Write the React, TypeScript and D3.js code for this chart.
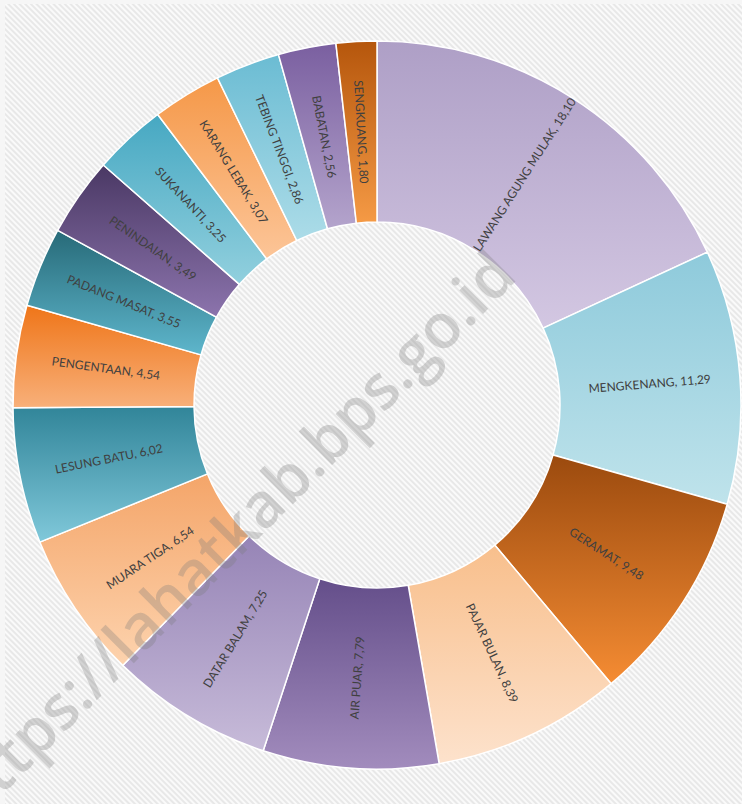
import * as d3 from "d3";

// Kecamatan shares (%), clockwise from 12 o'clock
const categories = [
  "LAWANG AGUNG MULAK",
  "MENGKENANG",
  "GERAMAT",
  "PAJAR BULAN",
  "AIR PUAR",
  "DATAR BALAM",
  "MUARA TIGA",
  "LESUNG BATU",
  "PENGENTAAN",
  "PADANG MASAT",
  "PENINDAIAN",
  "SUKANANTI",
  "KARANG LEBAK",
  "TEBING TINGGI",
  "BABATAN",
  "SENGKUANG",
];
const values = [
  18.1, 11.29, 9.48, 8.39, 7.79, 7.25, 6.54, 6.02, 4.54, 3.55, 3.49, 3.25,
  3.07, 2.86, 2.56, 1.8,
];

// gradient stops per slice (top -> bottom)
const topColors = [
  "#ae9fc6", "#8ecadb", "#9b4a0e", "#f8bf8c", "#644e8a", "#9684b6",
  "#f4a569", "#318599", "#ef7518", "#276a78", "#4a3864", "#46a8c2",
  "#f59848", "#6bbcd3", "#7a5fa0", "#b5560c",
];
const bottomColors = [
  "#d3c7e2", "#bfe3eb", "#f58c33", "#fde2cc", "#a28cbd", "#c7bbd9",
  "#fdd3ae", "#80c8da", "#f8b07a", "#5eb6cc", "#8c74ad", "#92d0de",
  "#fcc598", "#acdce8", "#b4a4cc", "#f59a45",
];

const width = 742;
const height = 804;
const cx = 377;
const cy = 405;
const outerR = 364;
const innerR = 183;

export default function App() {
  const data = categories.map((name, i) => ({ name, value: values[i], i }));

  const pie = d3
    .pie<{ name: string; value: number; i: number }>()
    .sort(null)
    .value((d) => d.value)
    .startAngle(0)
    .endAngle(2 * Math.PI);

  const arc = d3
    .arc<d3.PieArcDatum<{ name: string; value: number; i: number }>>()
    .innerRadius(innerR)
    .outerRadius(outerR);

  const arcs = pie(data);
  const fmt = (v: number) => v.toFixed(2).replace(".", ",");
  const labelR = (innerR + outerR) / 2;

  return (
    <svg
      width={width}
      height={height}
      style={{ position: "absolute", left: 0, top: 0, display: "block" }}
    >
      <defs>
        <pattern
          id="hatch"
          patternUnits="userSpaceOnUse"
          width={4}
          height={4}
          patternTransform="rotate(-45)"
        >
          <rect width={4} height={4} fill="#e8e8e8" />
          <rect width={2} height={4} fill="#fafafa" />
        </pattern>
        {arcs.map((a) => (
          <linearGradient
            key={a.data.name}
            id={`g${a.index}`}
            x1="0"
            y1="0"
            x2="0"
            y2="1"
          >
            <stop offset="0%" stopColor={topColors[a.index]} />
            <stop offset="100%" stopColor={bottomColors[a.index]} />
          </linearGradient>
        ))}
      </defs>

      <rect width={width} height={height} fill="#f6f6f6" />
      <rect x={5} y={4} width={width - 5} height={height - 4} fill="url(#hatch)" />

      <g transform={`translate(${cx},${cy})`}>
        {arcs.map((a) => (
          <path
            key={a.data.name}
            d={arc(a) || ""}
            fill={`url(#g${a.index})`}
            stroke="#ffffff"
            strokeWidth={1.5}
          />
        ))}
        {arcs.map((a) => {
          const mid = (a.startAngle + a.endAngle) / 2;
          const deg = (mid * 180) / Math.PI;
          const x = Math.sin(mid) * labelR;
          const y = -Math.cos(mid) * labelR;
          const rot = deg < 180 ? deg - 90 : deg - 270;
          return (
            <text
              key={a.data.name}
              transform={`translate(${x},${y}) rotate(${rot})`}
              textAnchor="middle"
              dominantBaseline="central"
              fontFamily="Lato, 'Open Sans', sans-serif"
              fontSize={12}
              fill="#404040"
            >
              {`${a.data.name}, ${fmt(a.data.value)}`}
            </text>
          );
        })}
      </g>

      <text
        transform="translate(519,278) rotate(-45)"
        textAnchor="end"
        fontFamily="'Open Sans', sans-serif"
        fontWeight={600}
        fontSize={62}
        fill="#7a7a7a"
        fillOpacity={0.3}
      >
        https://lahatkab.bps.go.id
      </text>
    </svg>
  );
}
